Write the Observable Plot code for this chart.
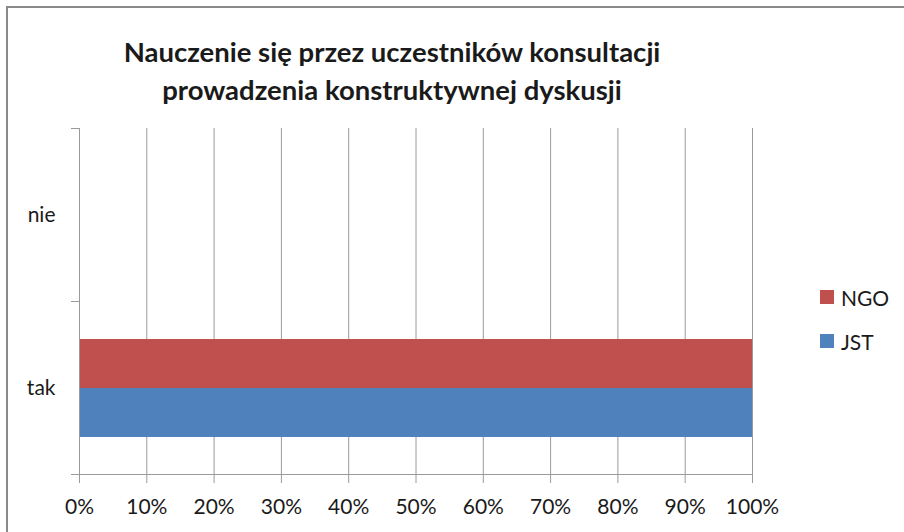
<!DOCTYPE html>
<html>
<head>
<meta charset="utf-8">
<script src="https://cdn.jsdelivr.net/npm/d3@7"></script>
<script src="https://cdn.jsdelivr.net/npm/@observablehq/plot@0.6"></script>
<style>
  html, body { margin: 0; padding: 0; background: #fff; }
  #wrap { position: relative; width: 904px; height: 532px; overflow: hidden; font-family: Lato, "Open Sans", sans-serif; color: #1a1a1a; }
  #border { position: absolute; left: 6px; top: 6px; right: -10px; bottom: -10px; border-top: 2px solid #8a8a8a; border-left: 2px solid #8a8a8a; }
  #title { position: absolute; left: 0; top: 33px; width: 784px; text-align: center; font-weight: bold; font-size: 27.5px; line-height: 38px; }
  #chart { position: absolute; left: 0; top: 118px; }
  #legend { position: absolute; left: 820px; top: 284px; font-size: 21px; }
  .item { display: flex; align-items: center; height: 26px; margin-bottom: 18px; }
  .sw { width: 14px; height: 14px; margin-right: 7px; }
</style>
</head>
<body>
<div id="wrap">
  <div id="border"></div>
  <div id="title"></div>
  <div id="chart"></div>
  <div id="legend"></div>
</div>
<script>
const titleLines = ["Nauczenie się przez uczestników konsultacji", "prowadzenia konstruktywnej dyskusji"];
const categories = ["nie", "tak"];
const seriesNames = ["NGO", "JST"];
const seriesColors = ["#C0504D", "#4F81BD"];
const ngoValues = [0, 1];
const jstValues = [0, 1];
const xTicks = [0, 0.1, 0.2, 0.3, 0.4, 0.5, 0.6, 0.7, 0.8, 0.9, 1];

document.getElementById("title").innerHTML = titleLines.join("<br>");

const ngo = categories.map((c, i) => ({cat: c, series: "NGO", value: ngoValues[i]}));
const jst = categories.map((c, i) => ({cat: c, series: "JST", value: jstValues[i]}));

const gridColor = "#9a9a9a";
const chart = Plot.plot({
  width: 800,
  height: 414,
  marginTop: 10,
  marginBottom: 58,
  marginLeft: 79,
  marginRight: 48,
  style: {fontFamily: "Lato, 'Open Sans', sans-serif", fontSize: "21px", color: "#1a1a1a", background: "transparent"},
  x: {domain: [0, 1]},
  y: {domain: categories, padding: 0},
  color: {domain: seriesNames, range: seriesColors},
  marks: [
    Plot.gridX(xTicks, {stroke: gridColor, strokeOpacity: 1}),
    Plot.barX(ngo.filter(d => d.value > 0), {x: "value", y: "cat", fill: "series", insetTop: 38, insetBottom: 86}),
    Plot.barX(jst.filter(d => d.value > 0), {x: "value", y: "cat", fill: "series", insetTop: 87, insetBottom: 37}),
    Plot.ruleX([0], {stroke: gridColor}),
    Plot.frame({anchor: "bottom", stroke: gridColor}),
    Plot.axisX({ticks: xTicks, tickFormat: d3.format(".0%"), tickSize: 9, tickPadding: 16, stroke: gridColor, strokeOpacity: 1, label: null, fill: "#1a1a1a"}),
    Plot.axisY({ticks: categories, tickSize: 0, tickPadding: 24, label: null, fill: "#1a1a1a"}),
    Plot.axisY({ticks: categories, tickSize: 8, text: null, stroke: gridColor, strokeOpacity: 1, dy: -86.5, label: null}),
    Plot.axisY({ticks: [categories[categories.length - 1]], tickSize: 8, text: null, stroke: gridColor, strokeOpacity: 1, dy: 86.5, label: null})
  ]
});
document.getElementById("chart").appendChild(chart);

const legend = document.getElementById("legend");
seriesNames.forEach((s, i) => {
  const item = document.createElement("div");
  item.className = "item";
  const sw = document.createElement("div");
  sw.className = "sw";
  sw.style.background = seriesColors[i];
  const t = document.createElement("span");
  t.textContent = s;
  item.appendChild(sw);
  item.appendChild(t);
  legend.appendChild(item);
});
</script>
</body>
</html>
